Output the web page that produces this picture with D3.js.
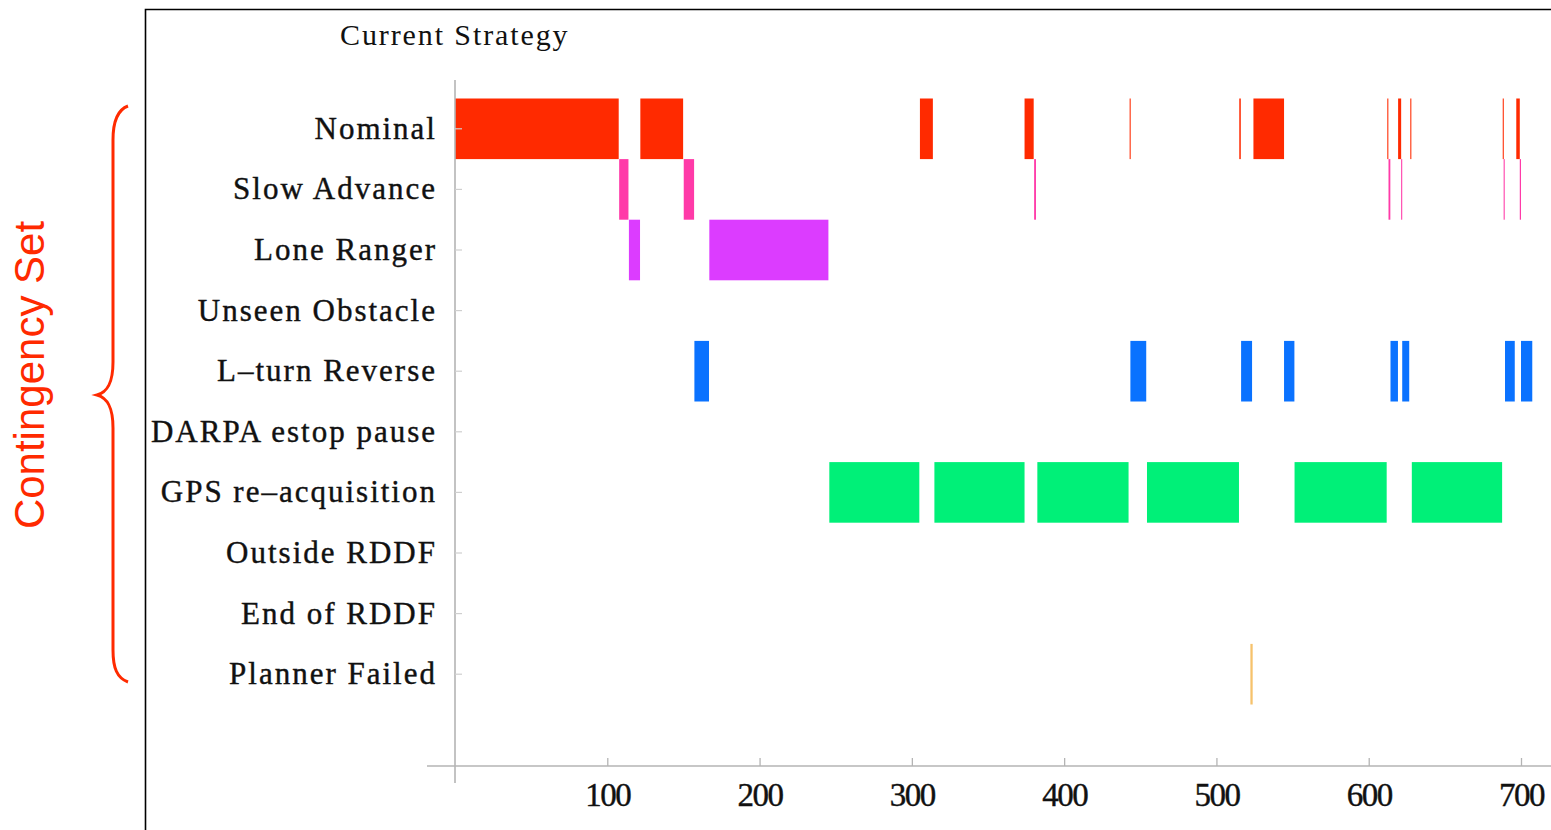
<!DOCTYPE html>
<html>
<head>
<meta charset="utf-8">
<script src="https://cdn.jsdelivr.net/npm/d3@7"></script>
<style>
  html, body { margin: 0; padding: 0; background: #ffffff; }
  svg { display: block; }
</style>
</head>
<body>
<svg id="chart" width="1551" height="830"></svg>
<script>
// Strategy timeline: which contingency strategy was active over time.
const strategies = [
  "Nominal", "Slow Advance", "Lone Ranger", "Unseen Obstacle",
  "L\u2013turn Reverse", "DARPA estop pause", "GPS re\u2013acquisition",
  "Outside RDDF", "End of RDDF", "Planner Failed"
];

// Active intervals [start, end] for each strategy.
const nominalSpans = [[0, 107.5], [121.7, 149.8], [305.3, 313.8], [374.0, 380.0], [443.0, 443.7],
  [515.0, 516.0], [524.3, 544.4], [612.2, 612.9], [619.3, 621.3], [627.3, 628.0],
  [688.0, 688.7], [696.9, 699.2]];
const slowAdvanceSpans = [[107.8, 113.9], [150.2, 157.0], [380.3, 381.5], [613.0, 614.2],
  [621.3, 622.0], [688.6, 689.3], [699.2, 700.0]];
const loneRangerSpans = [[114.2, 121.5], [167.0, 245.2]];
const unseenObstacleSpans = [];
const lTurnSpans = [[157.2, 166.8], [443.5, 453.9], [516.2, 523.4], [544.4, 551.2],
  [614.3, 619.2], [622.0, 626.6], [689.5, 695.9], [700.0, 707.4]];
const estopSpans = [];
const gpsSpans = [[245.8, 304.9], [314.8, 374.0], [382.4, 442.3], [454.4, 514.8],
  [551.3, 611.8], [628.3, 687.6]];
const outsideRddfSpans = [];
const endRddfSpans = [];
const plannerFailedSpans = [[522.3, 523.8]];

const spansByStrategy = [nominalSpans, slowAdvanceSpans, loneRangerSpans, unseenObstacleSpans,
  lTurnSpans, estopSpans, gpsSpans, outsideRddfSpans, endRddfSpans, plannerFailedSpans];

const strategyColors = ["#ff2a00", "#ff3aa8", "#dc3cff", "#888888", "#0a72ff",
  "#888888", "#00f078", "#888888", "#888888", "#f6c26c"];

const xTicks = [100, 200, 300, 400, 500, 600, 700];
const xDomain = [0, 700];

const svg = d3.select("#chart");
const serif = "'Liberation Serif', 'DejaVu Serif', serif";
const red = "#ff2a00";
const ink = "#111";

// Outer frame (opens to the right and bottom)
svg.append("path")
  .attr("d", "M145.5,831 V9.5 H1552")
  .attr("fill", "none")
  .attr("stroke", "#000")
  .attr("stroke-width", 1.6);

// Scales
const x = d3.scaleLinear().domain(xDomain).range([455, 1521]);
const y = d3.scaleBand().domain(strategies).range([98.5, 704.5]).paddingInner(0).paddingOuter(0);

const axisColor = "#b4b4b4";

// Interval bars
const flat = [];
spansByStrategy.forEach((spans, i) => {
  spans.forEach(s => flat.push({ strategy: strategies[i], start: s[0], end: s[1], color: strategyColors[i] }));
});
svg.append("g").selectAll("rect")
  .data(flat)
  .join("rect")
  .attr("x", d => x(d.start))
  .attr("width", d => x(d.end) - x(d.start))
  .attr("y", d => y(d.strategy))
  .attr("height", y.bandwidth())
  .attr("fill", d => d.color);

// Axis lines
svg.append("line")
  .attr("x1", 427).attr("x2", 1551).attr("y1", 766).attr("y2", 766)
  .attr("stroke", axisColor).attr("stroke-width", 1.6);
svg.append("line")
  .attr("x1", x(0)).attr("x2", x(0)).attr("y1", 80).attr("y2", 783)
  .attr("stroke", axisColor).attr("stroke-width", 1.6);

// Bottom axis: ticks point up, labels below
const xAxis = d3.axisBottom(x).tickValues(xTicks).tickSize(-8).tickPadding(17).tickFormat(d3.format("d"));
const gx = svg.append("g").attr("transform", "translate(0,766)").call(xAxis);
gx.select(".domain").remove();
gx.selectAll(".tick line").attr("stroke", axisColor).attr("stroke-width", 1.3);
gx.selectAll(".tick text")
  .attr("fill", ink)
  .attr("stroke", ink)
  .attr("stroke-width", 0.4)
  .style("font-family", serif)
  .style("font-size", "33px")
  .style("letter-spacing", "-1.5px");

// Left axis: strategy names
const yAxis = d3.axisLeft(y).tickSize(-7).tickPadding(18);
const gy = svg.append("g").attr("transform", `translate(${x(0)},0)`).call(yAxis);
gy.select(".domain").remove();
gy.selectAll(".tick line").attr("stroke", "#cfcfcf").attr("stroke-width", 1.2);
gy.selectAll(".tick text")
  .attr("fill", ink)
  .attr("stroke", ink)
  .attr("stroke-width", 0.4)
  .style("font-family", serif)
  .style("font-size", "31px")
  .style("letter-spacing", "2px");

// Title
svg.append("text")
  .attr("x", 340).attr("y", 45)
  .attr("fill", ink)
  .style("font-family", serif)
  .style("font-size", "30px")
  .style("letter-spacing", "1.9px")
  .text("Current Strategy");

// Curly brace grouping the contingency strategies
svg.append("path")
  .attr("d", "M128,106 C117,110 113,122 113,140 L113,362 C113,382 108,392 97,395 " +
             "C108,398 113,408 113,428 L113,650 C113,668 117,678 128,682")
  .attr("fill", "none")
  .attr("stroke", red)
  .attr("stroke-width", 3);

svg.append("text")
  .attr("transform", "translate(44,375) rotate(-90)")
  .attr("text-anchor", "middle")
  .attr("fill", red)
  .style("font-family", "'Liberation Sans', Arial, sans-serif")
  .style("font-size", "42px")
  .text("Contingency Set");
</script>
</body>
</html>
